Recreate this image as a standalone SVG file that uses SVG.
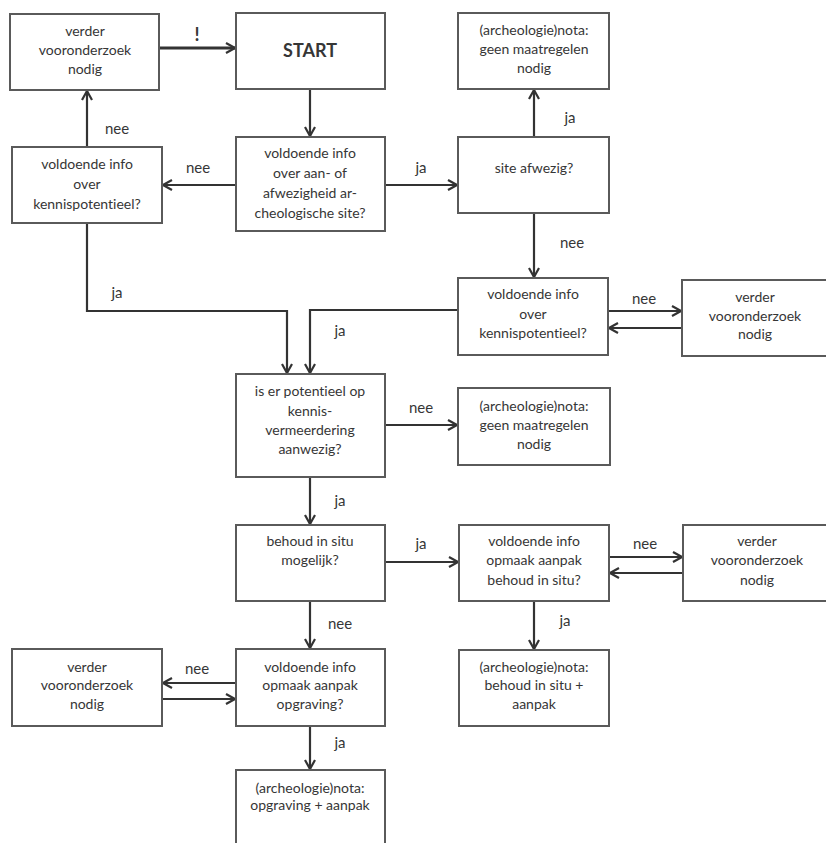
<svg xmlns="http://www.w3.org/2000/svg" width="826" height="843" viewBox="0 0 826 843">
<style>
.box{fill:#fff;stroke:#5a5a5a;stroke-width:2}
.t{font-family:Lato,"Liberation Sans",sans-serif;font-size:14px;fill:#363636;text-anchor:middle;dominant-baseline:central;font-variant-ligatures:none}
.lb{font-family:Lato,"Liberation Sans",sans-serif;font-size:15px;fill:#363636;text-anchor:middle;dominant-baseline:central;font-variant-ligatures:none}
.c{fill:none;stroke:#333;stroke-width:2.2}
</style>
<defs>
<marker id="ah" viewBox="0 0 12 12" refX="11" refY="6" markerWidth="12" markerHeight="12" markerUnits="userSpaceOnUse" orient="auto">
<path d="M2,1 L11,6 L2,11" fill="none" stroke="#333" stroke-width="2.2"/>
</marker>
</defs>
<rect width="826" height="843" fill="#fff"/>
<g id="connectors">
<path class="c" d="M159,48 H235" marker-end="url(#ah)" style="stroke-width:3"/>
<path class="c" d="M310,89 V136" marker-end="url(#ah)"/>
<path class="c" d="M236,185 H163" marker-end="url(#ah)"/>
<path class="c" d="M87,147 V91" marker-end="url(#ah)"/>
<path class="c" d="M385,185 H457" marker-end="url(#ah)"/>
<path class="c" d="M534,137 V90" marker-end="url(#ah)"/>
<path class="c" d="M534,213 V277" marker-end="url(#ah)"/>
<path class="c" d="M608,311 H681" marker-end="url(#ah)"/>
<path class="c" d="M682,328 H609" marker-end="url(#ah)"/>
<path class="c" d="M87,223 V311 H287 V373" marker-end="url(#ah)"/>
<path class="c" d="M458,310 H310 V373" marker-end="url(#ah)"/>
<path class="c" d="M385,425 H457" marker-end="url(#ah)"/>
<path class="c" d="M310,477 V524" marker-end="url(#ah)"/>
<path class="c" d="M385,562 H458" marker-end="url(#ah)"/>
<path class="c" d="M609,557 H682" marker-end="url(#ah)"/>
<path class="c" d="M683,573 H610" marker-end="url(#ah)"/>
<path class="c" d="M534,601 V649" marker-end="url(#ah)"/>
<path class="c" d="M310,601 V648" marker-end="url(#ah)"/>
<path class="c" d="M236,683 H163" marker-end="url(#ah)"/>
<path class="c" d="M162,699 H235" marker-end="url(#ah)"/>
<path class="c" d="M310,726 V769" marker-end="url(#ah)"/>
<text class="lb" x="197" y="34" style="font-weight:bold;font-size:18px">!</text>
<text class="lb" x="117" y="128">nee</text>
<text class="lb" x="198" y="167">nee</text>
<text class="lb" x="421" y="167">ja</text>
<text class="lb" x="570" y="117">ja</text>
<text class="lb" x="572" y="242">nee</text>
<text class="lb" x="644" y="298">nee</text>
<text class="lb" x="117" y="292">ja</text>
<text class="lb" x="340" y="330">ja</text>
<text class="lb" x="421" y="407">nee</text>
<text class="lb" x="340" y="500">ja</text>
<text class="lb" x="421" y="543">ja</text>
<text class="lb" x="645" y="543">nee</text>
<text class="lb" x="340" y="623">nee</text>
<text class="lb" x="565" y="620">ja</text>
<text class="lb" x="197" y="668">nee</text>
<text class="lb" x="340" y="742">ja</text>
</g>
<g id="n-verder-top">
<rect class="box" x="10" y="14" width="149" height="76"/>
<text class="t" x="85" y="30">verder</text>
<text class="t" x="85" y="49">vooronderzoek</text>
<text class="t" x="85" y="68">nodig</text>
</g>
<g id="n-start">
<rect class="box" x="236" y="13" width="149" height="76"/>
<text class="t" x="310" y="50" style="font-weight:bold;font-size:18px">START</text>
</g>
<g id="n-kennis-left">
<rect class="box" x="12" y="147" width="150" height="76"/>
<text class="t" x="87" y="163">voldoende info</text>
<text class="t" x="87" y="183">over</text>
<text class="t" x="87" y="203">kennispotentieel?</text>
</g>
<g id="n-aanwezigheid">
<rect class="box" x="236" y="137" width="149" height="94"/>
<text class="t" x="310" y="152">voldoende info</text>
<text class="t" x="310" y="172">over aan- of</text>
<text class="t" x="310" y="192">afwezigheid ar-</text>
<text class="t" x="310" y="212">cheologische site?</text>
</g>
<g id="n-nota-top">
<rect class="box" x="458" y="13" width="151" height="76"/>
<text class="t" x="534" y="29">(archeologie)nota:</text>
<text class="t" x="534" y="48">geen maatregelen</text>
<text class="t" x="534" y="67">nodig</text>
</g>
<g id="n-site">
<rect class="box" x="458" y="137" width="151" height="76"/>
<text class="t" x="534" y="167">site afwezig?</text>
</g>
<g id="n-kennis-right">
<rect class="box" x="458" y="278" width="150" height="77"/>
<text class="t" x="533" y="293">voldoende info</text>
<text class="t" x="533" y="313">over</text>
<text class="t" x="533" y="332">kennispotentieel?</text>
</g>
<g id="n-verder-right1">
<rect class="box" x="682" y="280" width="146" height="76"/>
<text class="t" x="755" y="296">verder</text>
<text class="t" x="755" y="315">vooronderzoek</text>
<text class="t" x="755" y="333">nodig</text>
</g>
<g id="n-potentieel">
<rect class="box" x="236" y="374" width="149" height="103"/>
<text class="t" x="310" y="390">is er potentieel op</text>
<text class="t" x="310" y="410">kennis-</text>
<text class="t" x="310" y="429">vermeerdering</text>
<text class="t" x="310" y="448">aanwezig?</text>
</g>
<g id="n-nota-mid">
<rect class="box" x="458" y="388" width="152" height="77"/>
<text class="t" x="534" y="405">(archeologie)nota:</text>
<text class="t" x="534" y="424">geen maatregelen</text>
<text class="t" x="534" y="443">nodig</text>
</g>
<g id="n-behoud">
<rect class="box" x="236" y="525" width="149" height="76"/>
<text class="t" x="310" y="540">behoud in situ</text>
<text class="t" x="310" y="559">mogelijk?</text>
</g>
<g id="n-info-behoud">
<rect class="box" x="459" y="525" width="150" height="76"/>
<text class="t" x="534" y="540">voldoende info</text>
<text class="t" x="534" y="559">opmaak aanpak</text>
<text class="t" x="534" y="579">behoud in situ?</text>
</g>
<g id="n-verder-right2">
<rect class="box" x="683" y="525" width="145" height="76"/>
<text class="t" x="757" y="540">verder</text>
<text class="t" x="757" y="559">vooronderzoek</text>
<text class="t" x="757" y="579">nodig</text>
</g>
<g id="n-nota-behoud">
<rect class="box" x="459" y="650" width="150" height="76"/>
<text class="t" x="534" y="666">(archeologie)nota:</text>
<text class="t" x="534" y="684">behoud in situ +</text>
<text class="t" x="534" y="703">aanpak</text>
</g>
<g id="n-verder-left">
<rect class="box" x="12" y="649" width="150" height="77"/>
<text class="t" x="87" y="666">verder</text>
<text class="t" x="87" y="684">vooronderzoek</text>
<text class="t" x="87" y="703">nodig</text>
</g>
<g id="n-info-opgraving">
<rect class="box" x="236" y="649" width="149" height="77"/>
<text class="t" x="310" y="666">voldoende info</text>
<text class="t" x="310" y="684">opmaak aanpak</text>
<text class="t" x="310" y="703">opgraving?</text>
</g>
<g id="n-nota-opgraving">
<rect class="box" x="236" y="770" width="149" height="82"/>
<text class="t" x="310" y="787">(archeologie)nota:</text>
<text class="t" x="310" y="804">opgraving + aanpak</text>
</g>
</svg>
